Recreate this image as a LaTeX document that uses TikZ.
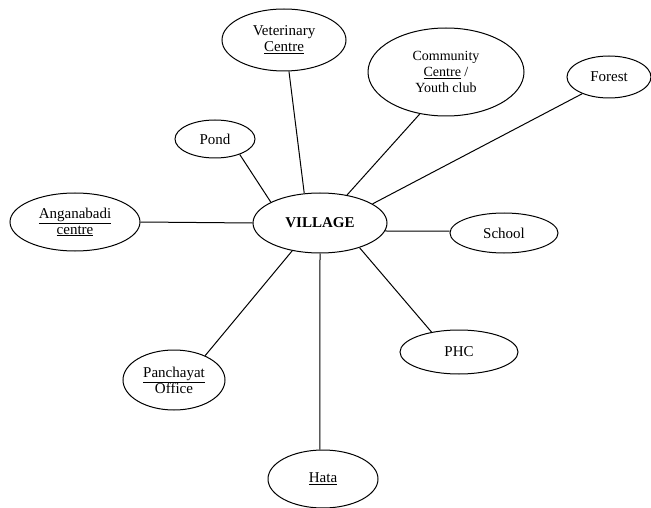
\documentclass[tikz,border=0pt]{standalone}
\usepackage{fontspec}
\setmainfont{Liberation Serif}
\usetikzlibrary{shapes.geometric}

\begin{document}
\begin{tikzpicture}[x=1pt,y=-1pt,
    place/.style={ellipse, draw, line width=1pt, inner sep=0pt, align=center,
      font=\fontsize{15}{16}\selectfont},
    spoke/.style={line width=1pt}]

  % One unit = one pixel of the sketch, y running downwards.
  \useasboundingbox (0,0) rectangle (651,508);

  % The village in the middle
  \node[place, minimum width=134pt, minimum height=60pt,
        font=\fontsize{15}{16}\selectfont\bfseries] (village) at (320,223) {VILLAGE};

  % Places round the village
  \node[place, minimum width=124pt, minimum height=62pt] (vet) at (284,40)
    {Veterinary\\\underline{Centre}};
  \node[place, minimum width=156pt, minimum height=88pt,
        font=\fontsize{14}{16}\selectfont] (community) at (446,72)
    {Community\\\underline{Centre} /\\Youth club};
  \node[place, minimum width=84pt, minimum height=42pt] (forest) at (609,77) {Forest};
  \node[place, minimum width=80pt, minimum height=38pt] (pond) at (215,139) {Pond};
  \node[place, minimum width=130pt, minimum height=58pt] (anganabadi) at (75,222)
    {\underline{Anganabadi}\\\underline{centre}};
  \node[place, minimum width=108pt, minimum height=40pt] (school) at (504,233) {School};
  \node[place, minimum width=118pt, minimum height=44pt] (phc) at (459,352) {PHC};
  \node[place, minimum width=102pt, minimum height=60pt] (panchayat) at (174,380)
    {\underline{Panchayat}\\Office};
  \node[place, minimum width=110pt, minimum height=58pt] (hata) at (323,479)
    {\underline{Hata}};

  % Spokes, each from the rim of the village to the rim of a place
  \draw[spoke] (village.118) -- (vet.-81);
  \draw[spoke] (village.46)  -- (community.-122);
  \draw[spoke] (village.20)  -- (forest.-148);
  \draw[spoke] (village.157) -- (pond.-32);
  \draw[spoke] (village.180) -- (anganabadi.0);
  \draw[spoke] (village.-7)  -- (school.178);
  \draw[spoke] (village.-32) -- (phc.144);
  \draw[spoke] (village.-135) -- (panchayat.38);
  \draw[spoke] (village.-90) -- (hata.96);

\end{tikzpicture}
\end{document}
